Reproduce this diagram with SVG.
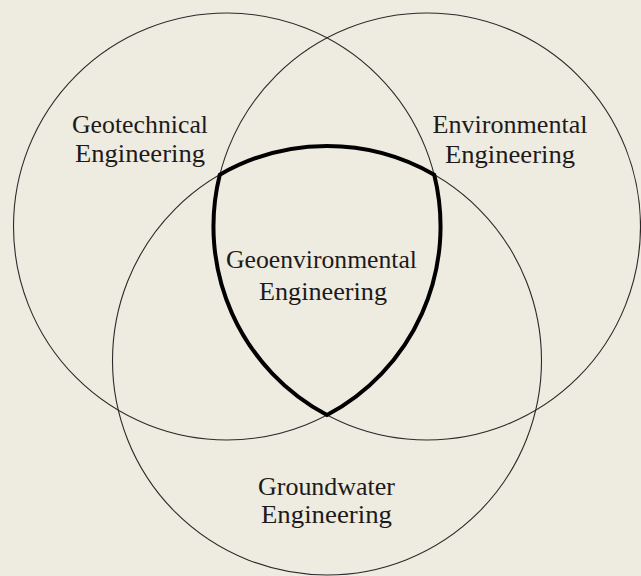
<svg xmlns="http://www.w3.org/2000/svg" width="641" height="576" viewBox="0 0 641 576">
<style>
.c{fill:none;stroke:#2a2a2a;stroke-width:1.1}
.t{font-family:"Liberation Serif","Times New Roman",serif;font-size:26px;fill:#1e1a1a;text-anchor:middle}
</style>
<rect width="641" height="576" fill="#EEECE1"/>
<g id="geotechnical">
<circle class="c" cx="227" cy="226.5" r="213.5"/>
<text class="t" x="140" y="133" textLength="136" lengthAdjust="spacingAndGlyphs">Geotechnical</text>
<text class="t" x="140" y="162" textLength="130" lengthAdjust="spacingAndGlyphs">Engineering</text>
</g>
<g id="environmental">
<circle class="c" cx="427" cy="226.5" r="213.5"/>
<text class="t" x="510" y="133" textLength="155" lengthAdjust="spacingAndGlyphs">Environmental</text>
<text class="t" x="510" y="163" textLength="130" lengthAdjust="spacingAndGlyphs">Engineering</text>
</g>
<g id="groundwater">
<circle class="c" cx="327" cy="360.5" r="214.5"/>
<text class="t" x="326.5" y="495" textLength="137" lengthAdjust="spacingAndGlyphs">Groundwater</text>
<text class="t" x="326.5" y="523" textLength="131" lengthAdjust="spacingAndGlyphs">Engineering</text>
</g>
<g id="geoenvironmental">
<path d="M219.8 174.7 A214.5 214.5 0 0 1 434.2 174.7 A213.5 213.5 0 0 1 327 415 A213.5 213.5 0 0 1 219.8 174.7 Z" fill="none" stroke="#000" stroke-width="4" stroke-linejoin="miter"/>
<text class="t" x="321.5" y="268" textLength="191" lengthAdjust="spacingAndGlyphs">Geoenvironmental</text>
<text class="t" x="323" y="300" textLength="128" lengthAdjust="spacingAndGlyphs">Engineering</text>
</g>
</svg>
